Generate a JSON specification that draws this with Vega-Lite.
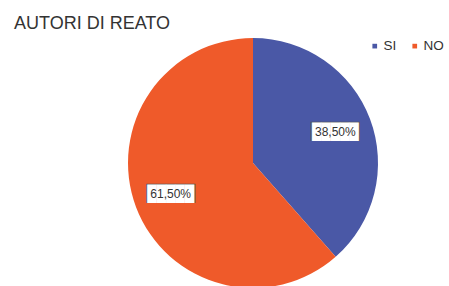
{
  "$schema": "https://vega.github.io/schema/vega-lite/v6.json",
  "width": 392,
  "height": 246,
  "autosize": {"type": "none"},
  "padding": {"left": 57, "top": 40, "right": 0, "bottom": 0},
  "background": "white",
  "title": {"text": "AUTORI DI REATO", "anchor": "start", "frame": "group", "dx": -43, "dy": -1, "fontSize": 18, "fontWeight": "normal", "font": "Liberation Sans", "color": "#333333"},
  "data": {"values": [
    {"cat": "SI", "value": 38.5, "ord": 1, "label": "38,50%"},
    {"cat": "NO", "value": 61.5, "ord": 2, "label": "61,50%"}
  ]},
  "encoding": {
    "theta": {"field": "value", "type": "quantitative", "stack": true},
    "order": {"field": "ord", "type": "ordinal"}
  },
  "layer": [
    {
      "mark": {"type": "arc", "outerRadius": 125},
      "encoding": {
        "color": {"field": "cat", "type": "nominal", "scale": {"domain": ["SI", "NO"], "range": ["#4a58a6", "#ef5a2a"]},
          "legend": {"title": null, "orient": "none", "legendX": 311, "legendY": -1, "padding": 0, "direction": "horizontal", "symbolType": "square", "symbolSize": 22, "symbolStrokeWidth": 0, "labelFontSize": 13.5, "labelFont": "Liberation Sans", "labelColor": "#333333", "columnPadding": 11, "labelOffset": 2}}
      }
    },
    {
      "mark": {"type": "text", "radius": 88, "fontSize": 16.2, "font": "DejaVu Sans Mono", "color": "#555555", "baseline": "middle"},
      "encoding": {"text": {"value": "█████"}}
    },
    {
      "mark": {"type": "text", "radius": 88, "fontSize": 15.5, "font": "DejaVu Sans Mono", "color": "#ffffff", "baseline": "middle"},
      "encoding": {"text": {"value": "█████"}}
    },
    {
      "mark": {"type": "text", "radius": 88, "fontSize": 12, "font": "Liberation Sans", "color": "#333333", "baseline": "middle"},
      "encoding": {"text": {"field": "label"}}
    }
  ]
}
